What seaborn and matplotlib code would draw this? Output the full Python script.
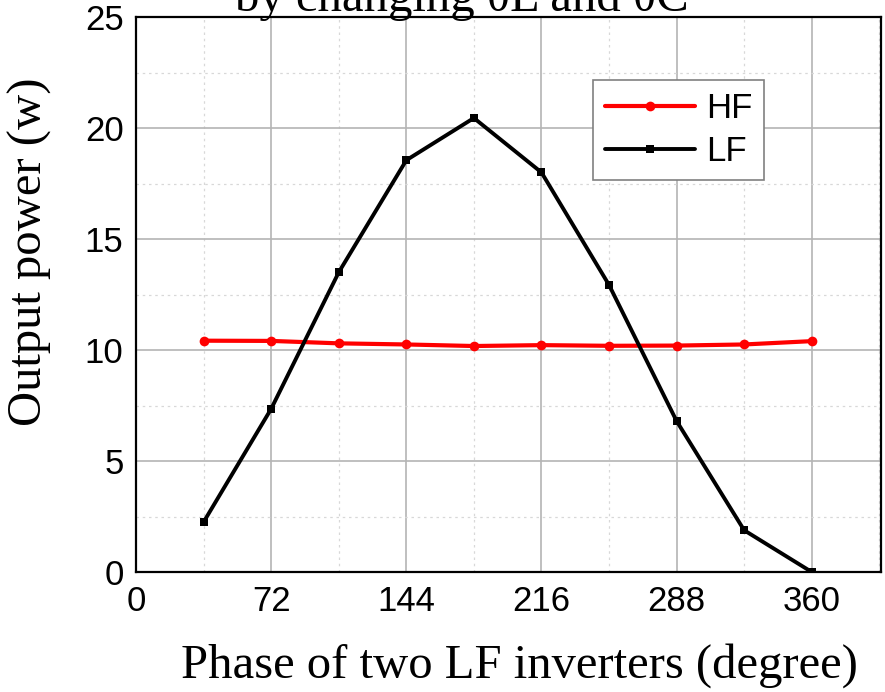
import pandas as pd
import numpy as np
import matplotlib
matplotlib.use("Agg")
import matplotlib.pyplot as plt
from matplotlib.ticker import MultipleLocator
import seaborn as sns

# --- DATA ---
phase = [36, 72, 108, 144, 180, 216, 252, 288, 324, 360]
hf_power = [10.42, 10.41, 10.30, 10.25, 10.18, 10.22, 10.19, 10.20, 10.25, 10.40]
lf_power = [2.25, 7.35, 13.5, 18.55, 20.45, 18.0, 12.93, 6.8, 1.88, 0.0]
x_ticks = [0, 72, 144, 216, 288, 360]
y_ticks = [0, 5, 10, 15, 20, 25]


def make_plot():
    df = pd.DataFrame({"phase": phase, "HF": hf_power, "LF": lf_power})

    sns.set_theme(style="white")
    plt.rcParams["font.family"] = ["Liberation Sans", "DejaVu Sans"]
    plt.rcParams["text.color"] = "black"
    plt.rcParams["axes.labelcolor"] = "black"

    fig = plt.figure(figsize=(8.85, 6.92), dpi=100)
    ax = fig.add_axes([0.1537, 0.1734, 0.842, 0.802])

    sns.lineplot(data=df, x="phase", y="HF", ax=ax, color="#ff0000",
                 marker="o", markersize=7, markeredgewidth=0, linewidth=3,
                 label="HF", zorder=3)
    sns.lineplot(data=df, x="phase", y="LF", ax=ax, color="black",
                 marker="s", markersize=6, markeredgewidth=0, linewidth=2.8,
                 label="LF", zorder=4)

    ax.set_xlim(0, 397)
    ax.set_ylim(0, 25)
    ax.set_xticks(x_ticks)
    ax.set_yticks(y_ticks)
    ax.xaxis.set_minor_locator(MultipleLocator(36))
    ax.yaxis.set_minor_locator(MultipleLocator(2.5))

    ax.grid(True, which="major", color="#b4b4b4", linestyle="-", linewidth=1.2)
    ax.grid(True, which="minor", color="#d8d8d8", linestyle=(0, (2, 3)), linewidth=0.9)
    ax.set_axisbelow(True)

    ax.tick_params(axis="both", which="both", length=0, labelsize=25, pad=9,
                   labelcolor="black")
    for s in ax.spines.values():
        s.set_color("black")
        s.set_linewidth(1.6)

    ax.set_xlabel("Phase of two LF inverters (degree)", family=["Liberation Serif"],
                  fontsize=35, color="black")
    ax.set_ylabel("Output power (w)", family=["Liberation Serif"], fontsize=35,
                  color="black")
    ax.xaxis.set_label_coords(0.515, -0.128)
    ax.yaxis.set_label_coords(-0.113, 0.577)

    leg = ax.legend(loc="upper left", bbox_to_anchor=(0.613, 0.887), fontsize=25,
                    frameon=True, fancybox=False, framealpha=1, edgecolor="#808080",
                    handlelength=2.6, handletextpad=0.3, borderpad=0.35,
                    labelspacing=0.3, borderaxespad=0)
    leg.get_frame().set_linewidth(1.2)
    for t in leg.get_texts():
        t.set_color("black")

    # clipped caption at the very top of the reference
    fig.text(0.522, 1 - 11 / 692, "by changing \u03b8L and \u03b8C",
             family=["Liberation Serif"], fontsize=35, ha="center", va="baseline",
             color="black")

    fig.savefig("out.png", dpi=100)


if __name__ == "__main__":
    make_plot()
